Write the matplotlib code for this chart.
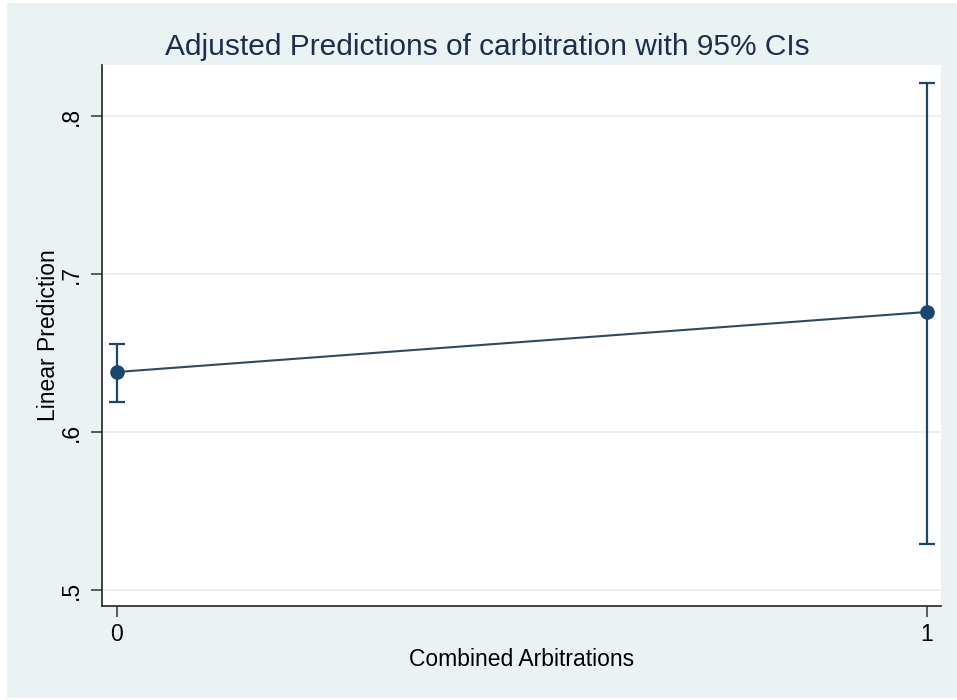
import matplotlib
matplotlib.use("Agg")
import matplotlib.pyplot as plt
from matplotlib.patches import Rectangle

# Adjusted predictions with 95% confidence intervals
categories = [0, 1]
tick_labels = ["0", "1"]
predictions = [0.638, 0.676]
ci_lower = [0.619, 0.529]
ci_upper = [0.656, 0.821]
y_ticks = [0.5, 0.6, 0.7, 0.8]
y_tick_labels = [".5", ".6", ".7", ".8"]

plt.rcParams["font.family"] = ["Liberation Sans", "DejaVu Sans"]

navy = "#1a476f"
bg = "#eaf2f3"

fig = plt.figure(figsize=(9.57, 7.0), dpi=100, facecolor="white")
# graph region background, inset slightly from the image edge
fig.patches.append(Rectangle((7 / 957, 2 / 700), 1 - 7 / 957, 1 - 5 / 700,
                             transform=fig.transFigure, facecolor=bg,
                             edgecolor="none", zorder=-10))

ax = fig.add_axes([102 / 957, 1 - 606 / 700, (941 - 102) / 957, (606 - 65) / 700])
ax.set_facecolor("white")

yerr = [[p - lo for p, lo in zip(predictions, ci_lower)],
        [hi - p for p, hi in zip(predictions, ci_upper)]]
ax.errorbar(categories, predictions, yerr=yerr, fmt="none", ecolor=navy,
            elinewidth=1.6, capsize=5.5, capthick=1.6, zorder=3)
ax.plot(categories, predictions, color="#2d4a63", lw=1.5, zorder=4)
ax.plot(categories, predictions, "o", color=navy, ms=9.5, zorder=5)

ax.set_xlim(-0.0185, 1.0173)
ax.set_ylim(0.4899, 0.8323)
ax.set_xticks(categories)
ax.set_xticklabels(tick_labels, fontsize=16.5)
ax.set_yticks(y_ticks)
ax.set_yticklabels(y_tick_labels, fontsize=16.5, rotation=90, va="center")
ax.grid(axis="y", color="#eaeaea", lw=1.2)
ax.set_axisbelow(True)

for side in ("top", "right"):
    ax.spines[side].set_visible(False)
for side in ("left", "bottom"):
    ax.spines[side].set_color("#222222")
    ax.spines[side].set_linewidth(1.2)
ax.tick_params(axis="both", length=8, width=1.1, color="#333333", pad=4)
ax.tick_params(axis="y", pad=6)

ax.set_xlabel("Combined Arbitrations", fontsize=16.5, labelpad=2)
ax.set_ylabel("Linear Prediction", fontsize=16.5, labelpad=0)
fig.text(487 / 957, 1 - 47 / 700, "Adjusted Predictions of carbitration with 95% CIs",
         ha="center", va="center", fontsize=21.5, color="#1e2d4f")

fig.savefig("out.png", dpi=100, facecolor="white")
